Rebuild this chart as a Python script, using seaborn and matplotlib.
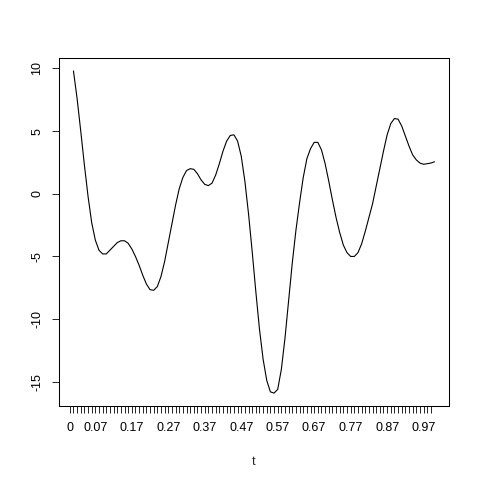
import numpy as np
import pandas as pd
import matplotlib
matplotlib.use("Agg")
import matplotlib.pyplot as plt
import seaborn as sns

# x positions of the curve (t = 0.01 .. 1.00)
t_values = [round(0.01 * i, 2) for i in range(1, 101)]
y_values = [
    9.8, 7.6, 5.0, 2.3, -0.2, -2.3, -3.7, -4.5, -4.8, -4.8,
    -4.5, -4.2, -3.9, -3.75, -3.75, -3.95, -4.4, -5.0, -5.7, -6.5,
    -7.2, -7.65, -7.7, -7.4, -6.6, -5.4, -3.9, -2.4, -0.9, 0.4,
    1.3, 1.85, 2.0, 1.95, 1.6, 1.1, 0.75, 0.65, 0.85, 1.5,
    2.4, 3.4, 4.2, 4.65, 4.7, 4.2, 3.0, 1.0, -1.6, -4.6,
    -7.8, -10.8, -13.2, -14.9, -15.8, -15.9, -15.6, -14.0, -11.5, -8.5,
    -5.5, -2.9, -0.7, 1.3, 2.8, 3.6, 4.1, 4.1, 3.5, 2.4,
    1.0, -0.5, -1.9, -3.1, -4.1, -4.7, -5.0, -5.0, -4.7, -4.0,
    -3.0, -1.9, -0.8, 0.6, 2.0, 3.4, 4.7, 5.6, 6.0, 5.95,
    5.4, 4.6, 3.8, 3.1, 2.7, 2.45, 2.35, 2.4, 2.45, 2.55,
]
# axis ticks: one per step, labels only where they fit
tick_positions = [round(0.01 * i, 2) for i in range(0, 100)]
tick_labels_shown = ["0", "0.07", "0.17", "0.27", "0.37", "0.47",
                     "0.57", "0.67", "0.77", "0.87", "0.97"]
y_ticks = [-15, -10, -5, 0, 5, 10]
x_label = "t"

df = pd.DataFrame({"t": t_values, "y": y_values})

sns.set_style("ticks")
plt.rcParams["font.family"] = ["Liberation Sans", "DejaVu Sans"]

fig = plt.figure(figsize=(4.8, 4.8), dpi=100)
ax = fig.add_axes([59 / 480, 1 - 406 / 480, 390 / 480, 348 / 480])

sns.lineplot(data=df, x="t", y="y", ax=ax, color="black", linewidth=0.8)

xr = max(t_values) - min(t_values)
ax.set_xlim(min(t_values) - 0.04 * xr, max(t_values) + 0.04 * xr)
yr = max(y_values) - min(y_values)
ax.set_ylim(min(y_values) - 0.04 * yr, max(y_values) + 0.04 * yr)

shown = set(tick_labels_shown)
labels = []
for p in tick_positions:
    s = "0" if p == 0 else f"{p:g}"
    labels.append(s if s in shown else "")
ax.set_xticks(tick_positions)
ax.set_xticklabels(labels)
ax.set_yticks(y_ticks)
ax.set_yticklabels([str(v) for v in y_ticks], rotation=90, va="center")

ax.tick_params(axis="both", length=5, width=0.6, color="black",
               labelsize=9, pad=6.5, labelcolor="black")
for sp in ax.spines.values():
    sp.set_visible(True)
    sp.set_color("black")
    sp.set_linewidth(0.75)

ax.set_xlabel(x_label, fontsize=9, labelpad=16)
ax.set_ylabel("")
ax.grid(False)

fig.savefig("out.png", dpi=100, facecolor="white")
